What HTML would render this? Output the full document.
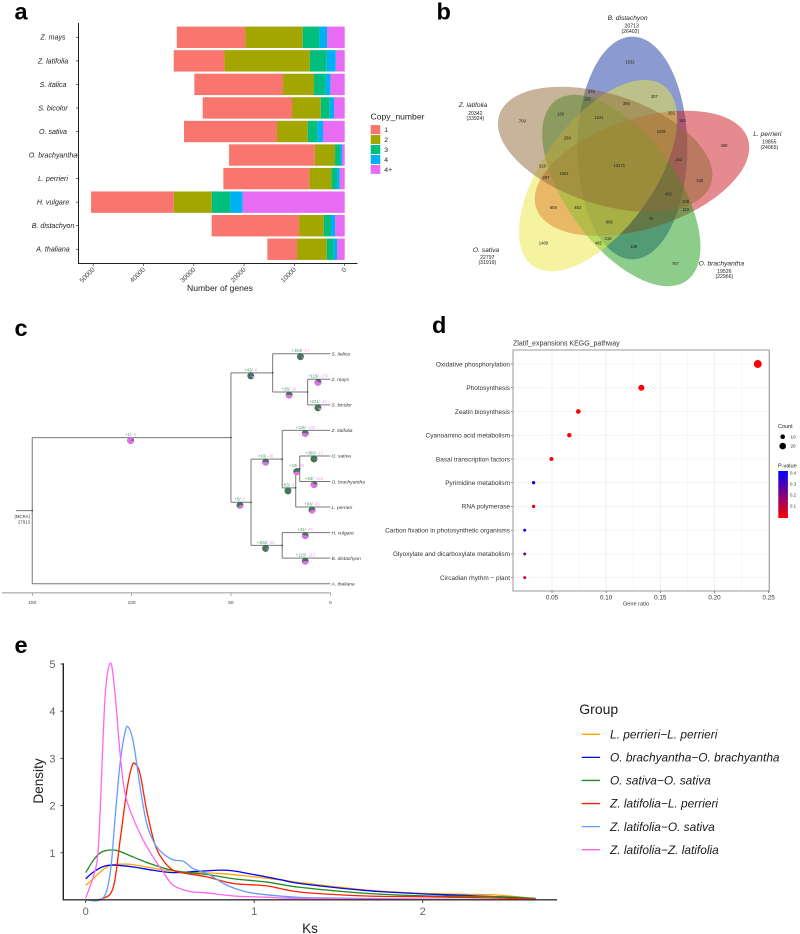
<!DOCTYPE html>
<html lang="en">
<head>
<meta charset="utf-8">
<title>Genome comparison figure</title>
<style>
html,body{margin:0;padding:0;background:#fff;}
svg{display:block;font-family:"Liberation Sans",sans-serif;}
.soft{filter:blur(.38px);}
</style>
</head>
<body>
<svg id="fig" xmlns="http://www.w3.org/2000/svg" width="800" height="934" viewBox="0 0 800 934">
<defs>
<linearGradient id="pgrad" x1="0" y1="0" x2="0" y2="1"><stop offset="0" stop-color="#0000ff"/><stop offset="1" stop-color="#ff0000"/></linearGradient>
</defs>
<rect width="800" height="934" fill="#fff"/>
<g font-weight="bold" font-size="23.5" fill="#000">
<text x="14.5" y="19.5">a</text>
<text x="436.5" y="19.5">b</text>
<text x="14.5" y="336">c</text>
<text x="432" y="333">d</text>
<text x="14.5" y="653">e</text>
</g>
<g id="panelA" class="soft"></g>
<g id="panelB" class="soft" transform="translate(430,0) scale(0.33333)">
<g>
<ellipse cx="607" cy="444" rx="165" ry="334" fill="#17379f" fill-opacity=".5"/>
<ellipse cx="636" cy="520" rx="165" ry="334" transform="rotate(72 636 520)" fill="#cb151d" fill-opacity=".5"/>
<ellipse cx="574" cy="571.5" rx="165" ry="334" transform="rotate(-36 574 571.5)" fill="#199b19" fill-opacity=".5"/>
<ellipse cx="504" cy="527" rx="165" ry="334" transform="rotate(36 504 527)" fill="#ebe741" fill-opacity=".5"/>
<ellipse cx="525.5" cy="448" rx="165" ry="334" transform="rotate(-72 525.5 448)" fill="#916935" fill-opacity=".5"/>
</g>
<g id="vennText" fill="#222" text-anchor="middle"></g>
</g>
<g id="panelC" class="soft"></g>
<g id="panelD" class="soft"></g>
<g id="panelE"></g>
</svg>
<script>
// ---------- Panel a data ----------
const speciesA = ['Z. mays','Z. latifolia','S. italica','S. bicolor','O. sativa','O. brachyantha','L. perrieri','H. vulgare','B. distachyon','A. thaliana'];
const copyNames = ['1','2','3','4','4+'];
const copyOne = [13580,10070,17630,17760,18490,17030,17100,16430,17360,5900];
const copyTwo = [11460,16960,6160,5700,6100,4040,4370,7550,4900,5900];
const copyThree = [3310,3380,2190,1790,1920,990,1130,3710,1460,1330];
const copyFour = [1520,1790,1060,860,1130,400,530,2450,800,730];
const copyMore = [3510,1790,2850,2120,4310,530,990,20280,1920,1520];
const geneTicks = [0,10000,20000,30000,40000,50000];
// ---------- Panel b data ----------
const vennCounts = ['1532','376','132','307','395','160','1221','355','150','709','1491','480','289','162','318','13171','1081','297','135','402','109','608','453','110','76','696','219','485','1489','138','767'];
// ---------- Panel c data ----------
const nodeIds = ['root','core','paniceae','bep','Sit','zs','Zm','Sb','oryz','pb','Zl','ol','os','Os','Ob','Lp','Hv','Bd','At'];
const nodeParents = [null,'root','core','core','paniceae','paniceae','zs','zs','bep','bep','oryz','oryz','ol','os','os','ol','pb','pb','root'];
const nodeAges = [150,50,29,39.9,0,11.4,0,0,24.2,24.2,0,17.4,15.4,0,0,0,0,0,0];
const nodeGains = [0,1,43,9,164,28,119,221,43,304,119,93,33,380,63,93,31,119,0];
const nodeLosses = [0,8,6,5,17,31,229,42,46,33,132,3,28,12,123,65,40,113,0];
const tipNames = {Sit:'S. italica',Zm:'Z. mays',Sb:'S. bicolor',Zl:'Z. latifolia',Os:'O. sativa',Ob:'O. brachyantha',Lp:'L. perrieri',Hv:'H. vulgare',Bd:'B. distachyon',At:'A. thaliana'};
const timeTicks = [150,100,50,0];
// ---------- Panel d data ----------
const pathways = ['Oxidative phosphorylation','Photosynthesis','Zeatin biosynthesis','Cyanoamino acid metabolism','Basal transcription factors','Pyrimidine metabolism','RNA polymerase','Carbon fixation in photosynthetic organisms','Glyoxylate and dicarboxylate metabolism','Circadian rhythm \u2212 plant'];
const geneRatio = [0.24,0.1325,0.0743,0.066,0.0495,0.033,0.033,0.0248,0.0248,0.0248];
const geneCount = [29,16,9,8,6,4,4,3,3,3];
const pValues = [0.003,0.005,0.004,0.008,0.012,0.37,0.02,0.41,0.28,0.1];
const ratioTicks = [0.05,0.10,0.15,0.20,0.25];
const ratioMinor = [0.075,0.125,0.175,0.225];
const countLegend = [10,20];
const pLegend = [0.4,0.3,0.2,0.1];
// ---------- Panel e data ----------
const groupNames = ['L. perrieri\u2212L. perrieri','O. brachyantha\u2212O. brachyantha','O. sativa\u2212O. sativa','Z. latifolia\u2212L. perrieri','Z. latifolia\u2212O. sativa','Z. latifolia\u2212Z. latifolia'];
const densityTicks = [1,2,3,4,5];
const ksTicks = [0,1,2];
const ksOrange = [0,.045,.085,.145,.244,.343,.48,.6,.8,.976,1.17,1.27,1.667,2,2.3,2.46,2.67];
const denOrange = [.31,.45,.59,.73,.76,.71,.63,.59,.56,.5,.42,.37,.21,.14,.12,.1,.03];
const ksBlue = [0,.045,.105,.164,.283,.4,.52,.68,.84,.996,1.17,1.27,1.667,2,2.3,2.67];
const denBlue = [.45,.59,.71,.74,.7,.63,.58,.61,.63,.54,.42,.35,.2,.13,.09,.03];
const ksGreen = [0,.045,.085,.125,.184,.283,.382,.48,.58,.72,.877,1.075,1.27,1.667,2,2.46,2.67];
const denGreen = [.58,.84,.995,1.05,1.05,.91,.77,.66,.59,.54,.45,.38,.27,.14,.09,.07,.03];
const ksRed = [0,.1,.164,.204,.244,.273,.293,.323,.362,.41,.46,.52,.6,.72,.877,1.075,1.27,1.667,2,2.46,2.67];
const denRed = [0,.03,.27,1.26,2.32,2.82,2.89,2.67,1.9,1.19,.84,.63,.56,.49,.35,.3,.17,.085,.07,.04,.02];
const ksSky = [0,.1,.145,.175,.204,.234,.253,.283,.323,.362,.41,.46,.52,.58,.64,.72,.84,.956,1.075,1.27,1.5,2,2.67];
const denSky = [0,.03,.56,1.76,2.89,3.56,3.66,3.34,2.39,1.62,1.19,.98,.85,.82,.66,.56,.31,.17,.11,.056,.04,.02,0];
const ksPink = [0,.065,.085,.115,.147,.174,.204,.234,.283,.343,.4,.46,.52,.62,.72,.88,1.07,1.27,2,2.67];
const denPink = [.04,.77,1.83,4.3,5.02,4.37,3.1,2.25,1.72,1.26,.91,.59,.31,.18,.15,.085,.06,.035,.015,.005];

const NS = 'http://www.w3.org/2000/svg';
function mk(parent, tag, attrs, text){
  const e = document.createElementNS(NS, tag);
  for (const k in attrs) e.setAttribute(k, attrs[k]);
  if (text !== undefined) e.textContent = text;
  parent.appendChild(e);
  return e;
}
function slug(s){ return String(s).toLowerCase().replace(/[^a-z0-9]+/g,'-').replace(/^-|-$/g,''); }

// ========== Panel a ==========
(function(){
  const g = document.getElementById('panelA');
  const xA = v => 344.7 - v * 0.00503;
  const yA = i => 37.3 + i * 23.55;
  const colors = ['#F8766D','#A3A500','#00BF7D','#00B0F6','#E76BF3'];
  const series = [copyMore, copyFour, copyThree, copyTwo, copyOne];
  const seriesColor = [colors[4],colors[3],colors[2],colors[1],colors[0]];
  const seriesName = ['4plus','4','3','2','1'];
  speciesA.forEach((sp,i)=>{
    let acc = 0;
    series.forEach((s,k)=>{
      const x1 = xA(acc), x0 = xA(acc + s[i]);
      const r = mk(g,'rect',{x:x0,y:yA(i)-10.7,width:x1-x0,height:21.4,fill:seriesColor[k]});
      
      
      acc += s[i];
    });
    const t = mk(g,'line',{x1:76,x2:78.5,y1:yA(i),y2:yA(i),stroke:'#333','stroke-width':.7});
    
    
    const lb = mk(g,'text',{x:53,y:yA(i)+2.4,'text-anchor':'middle','font-size':7.1,'font-style':'italic',fill:'#222'},sp);
    
    
  });
  const ya = mk(g,'line',{x1:78.5,x2:78.5,y1:23,y2:263.5,stroke:'#222','stroke-width':1});
  
  
  const xa = mk(g,'line',{x1:78,x2:357.5,y1:263.5,y2:263.5,stroke:'#222','stroke-width':1});
  
  
  geneTicks.forEach(v=>{
    const x = xA(v);
    const t = mk(g,'line',{x1:x,x2:x,y1:263.5,y2:266,stroke:'#333','stroke-width':.7});
    
    
    const l = mk(g,'text',{x:x+2,y:270,'text-anchor':'end','font-size':6.6,fill:'#444',transform:'rotate(-45 '+(x+2)+' 270)'},String(v));
    
    
  });
  const ti = mk(g,'text',{x:220,y:291,'text-anchor':'middle','font-size':8.6,fill:'#222'},'Number of genes');
  
  
  const lt = mk(g,'text',{x:370.5,y:119.5,'font-size':8.6,fill:'#222'},'Copy_number');
  
  
  copyNames.forEach((n,i)=>{
    const y = 129.6 + i*9.95;
    const r = mk(g,'rect',{x:370.7,y:y-4.5,width:9.6,height:9,fill:colors[i]});
    
    
    const l = mk(g,'text',{x:384.3,y:y+2.4,'font-size':6.8,fill:'#222'},n);
    
    
  });
})();

// ========== Panel b text ==========
(function(){
  const g = document.getElementById('vennText');
  const spots = [[600,186],[484,274],[472,297],[673,290],[589,311],[392,342],[507,352],[724,339],[757,362],[277,363],[694,395],[882,436],[412,414],[746,478],[337,498],[568,497],[402,520],[348,532],[809,541],[715,582],[767,604],[370,623],[443,623],[767,629],[663,655],[538,666],[534,716],[505,729],[340,729],[611,739],[736,790]];
  vennCounts.forEach((c,i)=>{
    const t = mk(g,'text',{x:spots[i][0],y:spots[i][1]+4.5,'font-size':12.5},c);
    
    
  });
  const names = [['B. distachyon',593,54,'20713',605,77,'(26402)',601,93],['Z. latifolia',129,315,'20342',136,339,'(33924)',136,354],['L. perrieri',1012,402,'19855',1018,425,'(24065)',1018,442],['O. sativa',168,750,'22797',172,772,'(31919)',172,787],['O. brachyantha',874,790,'19526',883,814,'(22966)',883,829]];
  names.forEach(n=>{
    const a = mk(g,'text',{x:n[1],y:n[2]+6.5,'font-size':20,'font-style':'italic'},n[0]);
    
    
    const b = mk(g,'text',{x:n[4],y:n[5]+5.5,'font-size':15.5},n[3]);
    
    
    const c = mk(g,'text',{x:n[7],y:n[8]+5.5,'font-size':15.5},n[6]);
    
    
  });
})();

// ========== Panel c ==========
(function(){
  const g = document.getElementById('panelC');
  const xT = t => 330.3 - t * 1.987;
  const tipY = i => 353.7 + i * 25.56;
  const idx = id => nodeIds.indexOf(id);
  const kids = id => nodeIds.filter((n,i)=>nodeParents[i]===id);
  let tipCount = 0;
  const yOf = {};
  (function layout(id){
    const c = kids(id);
    if (!c.length){ yOf[id] = tipY(tipCount++); return; }
    c.forEach(layout);
    yOf[id] = (yOf[c[0]] + yOf[c[c.length-1]]) / 2;
  })('root');
  const lineCol = '#777';
  const stem = mk(g,'line',{x1:16,x2:xT(150),y1:yOf.root,y2:yOf.root,stroke:lineCol,'stroke-width':1});
  
  
  const m1 = mk(g,'text',{x:30,y:518,'text-anchor':'end','font-size':4.3,fill:'#333'},'(MCRA)');
  
  
  const m2 = mk(g,'text',{x:30,y:523.7,'text-anchor':'end','font-size':4.3,fill:'#333'},'27913');
  
  
  nodeIds.forEach((id,i)=>{
    const c = kids(id);
    const x = xT(nodeAges[i]);
    if (c.length){
      const v = mk(g,'line',{x1:x,x2:x,y1:yOf[c[0]],y2:yOf[c[c.length-1]],stroke:lineCol,'stroke-width':1});
      
      
    }
    const p = nodeParents[i];
    if (p){
      const px = xT(nodeAges[idx(p)]);
      const h = mk(g,'line',{x1:px,x2:x,y1:yOf[id],y2:yOf[id],stroke:lineCol,'stroke-width':1});
      
      
    }
  });
  nodeIds.forEach((id,i)=>{
    const x = xT(nodeAges[i]);
    if (kids(id).length){
      const d = mk(g,'circle',{cx:x,cy:yOf[id],r:.7,fill:'#222'});
      
      
    }
    const p = nodeParents[i];
    if (!p) return;
    if (tipNames[id]){
      const t = mk(g,'text',{x:331.5,y:yOf[id]+1.8,'font-size':4.9,'font-style':'italic',fill:'#333'},tipNames[id]);
      
      
    }
    const gain = nodeGains[i], loss = nodeLosses[i];
    if (gain + loss === 0) return;
    const mx = (xT(nodeAges[idx(p)]) + x)/2 - 1;
    const my = yOf[id] + 3;
    const R = 3.3;
    const base = mk(g,'circle',{cx:mx,cy:my,r:R,fill:'#3e7a58',stroke:'#2a2a2a','stroke-width':.25});
    
    
    const f = loss/(gain+loss);
    const ang = f*2*Math.PI;
    const ex = mx + R*Math.cos(ang), ey = my + R*Math.sin(ang);
    const sec = mk(g,'path',{d:'M'+mx+' '+my+'L'+(mx+R)+' '+my+'A'+R+' '+R+' 0 '+(f>.5?1:0)+' 1 '+ex+' '+ey+'Z',fill:'#e76bf3'});
    
    
    const lb = mk(g,'text',{x:mx,y:yOf[id]-1.6,'text-anchor':'middle','font-size':4.2});
    
    
    mk(lb,'tspan',{fill:'#4a9a70'},'+'+gain+'/');
    mk(lb,'tspan',{fill:'#f0a0ee'},'\u2212'+loss);
  });
  const ax = mk(g,'line',{x1:2,x2:330.5,y1:592.8,y2:592.8,stroke:'#a5a5a5','stroke-width':1.1});
  
  
  timeTicks.forEach(v=>{
    const x = xT(v);
    const t = mk(g,'line',{x1:x,x2:x,y1:592.8,y2:596,stroke:'#666','stroke-width':.5});
    
    
    const l = mk(g,'text',{x:x,y:604,'text-anchor':'middle','font-size':4.8,fill:'#444'},String(v));
    
    
  });
})();

// ========== Panel d ==========
(function(){
  const g = document.getElementById('panelD');
  const xR = v => 552 + (v-0.05)*1083;
  const yP = i => 364 + i*23.74;
  const rC = c => 0.3 + 0.68*Math.sqrt(c);
  const pCol = p => {
    const f = Math.min(1,p/0.42);
    return 'rgb('+Math.round(255*(1-f))+',0,'+Math.round(255*f)+')';
  };
  ratioMinor.forEach(v=>{
    const l = mk(g,'line',{x1:xR(v),x2:xR(v),y1:350,y2:591,stroke:'#f3f3f3','stroke-width':.6});
    
    
  });
  ratioTicks.forEach(v=>{
    const l = mk(g,'line',{x1:xR(v),x2:xR(v),y1:350,y2:591,stroke:'#ececec','stroke-width':.8});
    
    
  });
  pathways.forEach((n,i)=>{
    const l = mk(g,'line',{x1:513,x2:769,y1:yP(i),y2:yP(i),stroke:'#f0f0f0','stroke-width':.8});
    
    
    const t = mk(g,'line',{x1:511,x2:513,y1:yP(i),y2:yP(i),stroke:'#444','stroke-width':.6});
    
    
    const lb = mk(g,'text',{x:510,y:yP(i)+2.3,'text-anchor':'end','font-size':6.45,fill:'#333'},n);
    
    
    const pt = mk(g,'circle',{cx:xR(geneRatio[i]),cy:yP(i),r:rC(geneCount[i]),fill:pCol(pValues[i])});
    
    
  });
  const box = mk(g,'rect',{x:513,y:350,width:256.3,height:241,fill:'none',stroke:'#9a9a9a','stroke-width':1});
  
  
  ratioTicks.forEach(v=>{
    const t = mk(g,'line',{x1:xR(v),x2:xR(v),y1:591,y2:593,stroke:'#444','stroke-width':.6});
    
    
    const l = mk(g,'text',{x:xR(v),y:599.5,'text-anchor':'middle','font-size':6.3,fill:'#333'},v.toFixed(2));
    
    
  });
  const xt = mk(g,'text',{x:636,y:605.5,'text-anchor':'middle','font-size':5.6,fill:'#333'},'Gene ratio');
  
  
  const tt = mk(g,'text',{x:513,y:345.5,'font-size':7,fill:'#333'},'Zlatif_expansions KEGG_pathway');
  
  
  const c0 = mk(g,'text',{x:778,y:428,'font-size':5.5,fill:'#222'},'Count');
  
  
  countLegend.forEach((c,i)=>{
    const y = 436.7 + i*9.4;
    const p = mk(g,'circle',{cx:782.7,cy:y,r:2.3+i*1,fill:'#000'});
    
    
    const l = mk(g,'text',{x:790.5,y:y+1.6,'font-size':4.6,fill:'#333'},String(c));
    
    
  });
  const p0 = mk(g,'text',{x:778,y:467.5,'font-size':5.5,fill:'#222'},'P-value');
  
  
  const bar = mk(g,'rect',{x:778.3,y:471,width:9.6,height:47,fill:'url(#pgrad)'});
  
  
  pLegend.forEach(v=>{
    const y = 517 - v*110;
    const l = mk(g,'text',{x:790,y:y+1.6,'font-size':4.4,fill:'#333'},v.toFixed(1));
    
    
  });
})();

// ========== Panel e ==========
(function(){
  const g = document.getElementById('panelE');
  const xK = k => 85.7 + k*168.5;
  const yD = d => 900 - d*47.2;
  const colors = ['#FFA500','#0000FF','#228B22','#FF2000','#6699FF','#FF66EE'];
  const ks = [ksOrange,ksBlue,ksGreen,ksRed,ksSky,ksPink];
  const dens = [denOrange,denBlue,denGreen,denRed,denSky,denPink];
  function smooth(xs,ys){
    const P = xs.map((x,i)=>[xK(x),yD(ys[i])]);
    let d = 'M'+P[0][0].toFixed(2)+' '+P[0][1].toFixed(2);
    for (let i=0;i<P.length-1;i++){
      const a = P[Math.max(i-1,0)], b = P[i], c = P[i+1], e = P[Math.min(i+2,P.length-1)];
      const c1 = [b[0]+(c[0]-a[0])/6, b[1]+(c[1]-a[1])/6];
      const c2 = [c[0]-(e[0]-b[0])/6, c[1]-(e[1]-b[1])/6];
      d += 'C'+c1[0].toFixed(2)+' '+c1[1].toFixed(2)+' '+c2[0].toFixed(2)+' '+c2[1].toFixed(2)+' '+c[0].toFixed(2)+' '+c[1].toFixed(2);
    }
    return d;
  }
  groupNames.forEach((n,i)=>{
    const p = mk(g,'path',{d:smooth(ks[i],dens[i]),fill:'none',stroke:colors[i],'stroke-width':1.3});
    
    
    const y = 734.3 + i*23.08;
    const k = mk(g,'line',{x1:581.7,x2:600,y1:y,y2:y,stroke:colors[i],'stroke-width':1.3});
    
    
    const t = mk(g,'text',{x:610,y:y+4.2,'font-size':11.9,'font-style':'italic',fill:'#1a1a1a'},n);
    
    
  });
  const ya = mk(g,'line',{x1:63.3,x2:63.3,y1:663.3,y2:900.3,stroke:'#222','stroke-width':1.4});
  
  
  const xa = mk(g,'line',{x1:62.6,x2:557,y1:899.8,y2:899.8,stroke:'#333','stroke-width':1.4});
  
  
  densityTicks.forEach(v=>{
    const t = mk(g,'line',{x1:60.5,x2:63.3,y1:yD(v),y2:yD(v),stroke:'#333','stroke-width':.9});
    
    
    const l = mk(g,'text',{x:55.5,y:yD(v)+4,'text-anchor':'end','font-size':11,fill:'#666'},String(v));
    
    
  });
  ksTicks.forEach(v=>{
    const t = mk(g,'line',{x1:xK(v),x2:xK(v),y1:899.8,y2:903,stroke:'#333','stroke-width':.9});
    
    
    const l = mk(g,'text',{x:xK(v),y:915,'text-anchor':'middle','font-size':11,fill:'#666'},String(v));
    
    
  });
  const yt = mk(g,'text',{x:43,y:781,'text-anchor':'middle','font-size':13.6,fill:'#222',transform:'rotate(-90 43 781)'},'Density');
  
  
  const xt = mk(g,'text',{x:310,y:933,'text-anchor':'middle','font-size':13.6,fill:'#222'},'Ks');
  
  
  const lg = mk(g,'text',{x:579.3,y:714,'font-size':14,fill:'#1a1a1a'},'Group');
  
  
})();
</script>
</body>
</html>
